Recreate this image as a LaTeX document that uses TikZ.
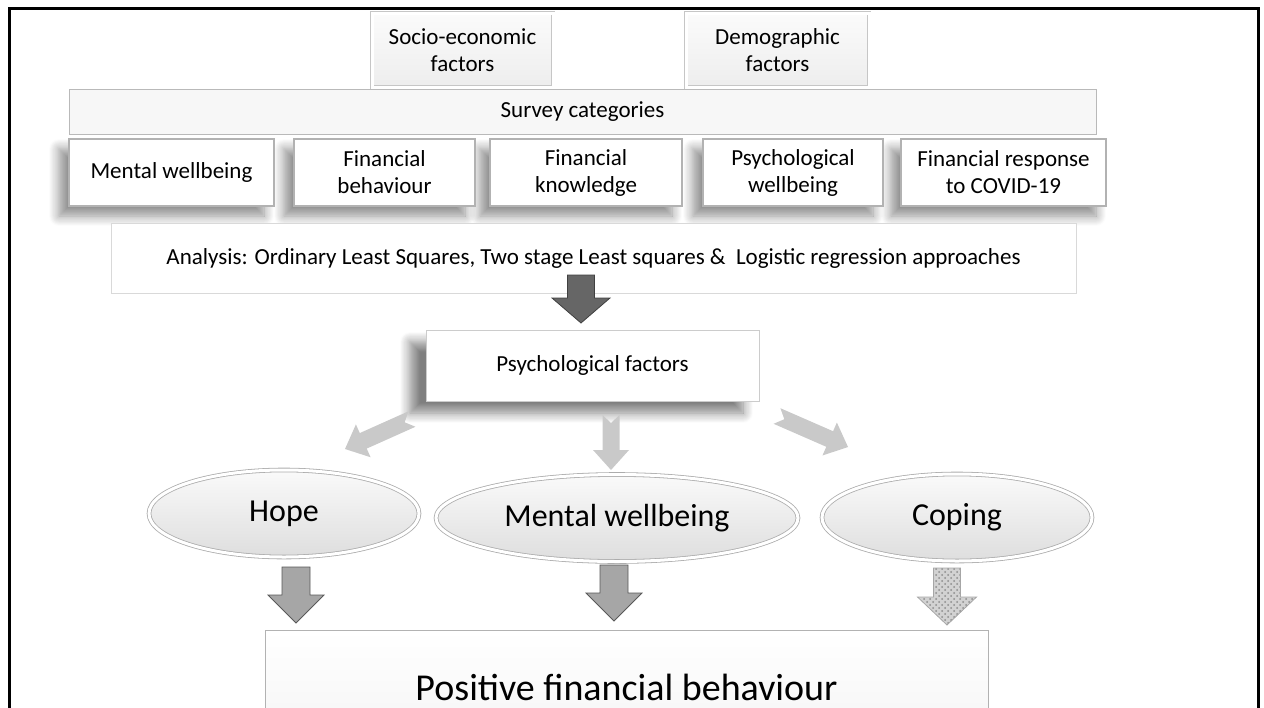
\documentclass[tikz,border=0pt]{standalone}
\usepackage{fontspec}
\setmainfont{Carlito}
\usetikzlibrary{calc,shapes.geometric,shadows.blur,patterns}

\definecolor{arrowdark}{HTML}{666666}
\definecolor{arrowlight}{HTML}{C9C9C9}
\definecolor{arrowmid}{HTML}{A6A6A6}

% block arrow: [style]{tail}{tip}{shaft half width}{head half width}{head length}{notch}
\newcommand{\blockarrow}[7][]{%
  \path[#1] ($(#2)!#4!90:(#3)$)
    -- ($($(#3)!#6!(#2)$)!#4!90:(#3)$)
    -- ($($(#3)!#6!(#2)$)!#5!90:(#3)$)
    -- (#3)
    -- ($($(#3)!#6!(#2)$)!#5!-90:(#3)$)
    -- ($($(#3)!#6!(#2)$)!#4!-90:(#3)$)
    -- ($(#2)!#4!-90:(#3)$)
    -- ($(#2)!#7!(#3)$) -- cycle;}

\begin{document}
\begin{tikzpicture}[x=0.5pt, y=-0.5pt,
  every node/.style={font=\fontsize{11.5}{13.5}\selectfont, align=center, inner sep=0pt},
  factorbox/.style={draw=gray!45, double=white, double distance=1.5pt,
    top color=gray!3, bottom color=gray!14, minimum height=37pt},
  catbox/.style={draw=gray!60, line width=0.8pt, fill=white, minimum height=33.5pt},
  softshadow/.style={blur shadow={shadow xshift=-5pt, shadow yshift=-5pt,
      shadow blur radius=5pt, shadow blur steps=10, shadow opacity=45}},
  ovalnode/.style={ellipse, draw=gray!65, double=white, double distance=1.5pt,
    top color=gray!4, bottom color=gray!26, minimum height=43.5pt,
    font=\fontsize{16}{19}\selectfont}]
  \useasboundingbox (0,0) rectangle (1264,707);
  \clip (0,0) rectangle (1264,707);
  \draw[line width=1.5pt] (9,720) |- (1258,8) -- (1258,720);

  % inputs
  \node[factorbox, minimum width=90.5pt] (socio) at (462.5,50) {Socio-economic\\factors};
  \node[factorbox, minimum width=91.5pt] (demog) at (777.5,50) {Demographic\\factors};
  \node[draw=gray!55, fill=gray!6, minimum width=513.5pt, minimum height=22.5pt]
    (survey) at (582.5,111.5) {Survey categories};
  \foreach \x/\w in {171.5/102.5, 384.5/90.5, 586/96, 793/90, 1003.5/102.5}
    { \path[softshadow] (\x-\w,139) rectangle (\x+\w,206); }
  \foreach \n/\x/\w/\t in {mw/171.5/102.5/{Mental wellbeing},
      fb/384.5/90.5/{Financial\\behaviour}, fk/586/96/{Financial\\knowledge},
      pw/793/90/{Psychological\\wellbeing}, fr/1003.5/102.5/{Financial response\\to COVID-19}}
    { \node[catbox, minimum width=\w pt] (\n) at (\x,172.5) {\t}; }
  \node[draw=gray!30, fill=white, minimum width=482.5pt, minimum height=35pt]
    (ana) at (593.5,258) {Analysis: Ordinary Least Squares, Two stage Least squares \&\ \ Logistic regression approaches};

  % psychological factors
  \node[draw=gray!40, fill=white, minimum width=166.5pt, minimum height=35.5pt,
    blur shadow={shadow xshift=-8pt, shadow yshift=-6pt, shadow blur radius=5pt,
      shadow blur steps=10, shadow opacity=50}]
    (psych) at (592.5,365.5) {Psychological factors};
  \node[ovalnode, minimum width=135pt] (hope) at (284,513.5) {Hope};
  \node[ovalnode, minimum width=181pt] (mwb) at (617,518) {Mental wellbeing};
  \node[ovalnode, minimum width=135pt] (coping) at (957,517.5) {Coping};
  \node[draw=gray!60, top color=white, bottom color=gray!8, minimum width=361.5pt,
    minimum height=57pt, font=\fontsize{19}{23}\selectfont]
    (pos) at (626.5,687) {Positive financial behaviour};

  % arrows
  \coordinate (d0) at (581,275); \coordinate (d1) at (581,323);
  \blockarrow[fill=arrowdark, draw=black!75]{d0}{d1}{6.75pt}{14.5pt}{12.5pt}{0pt}
  \foreach \a/\b/\c/\d in {412/419/345/449, 611/415/611/470, 777/416/848/447}
    { \coordinate (l0) at (\a,\b); \coordinate (l1) at (\c,\d);
      \blockarrow[fill=arrowlight]{l0}{l1}{4.25pt}{9pt}{10pt}{4pt} }
  \foreach \a/\b in {296/567, 614/565}
    { \coordinate (m0) at (\a,\b); \coordinate (m1) at (\a,\b+56);
      \blockarrow[fill=arrowmid, draw=black!65]{m0}{m1}{7pt}{14pt}{14pt}{0pt} }
  \coordinate (c0) at (947,568); \coordinate (c1) at (947,625);
  \blockarrow[preaction={fill=gray!35}, pattern=crosshatch dots, pattern color=gray!90,
    draw=gray!70]{c0}{c1}{6.75pt}{14.75pt}{14pt}{0pt}
\end{tikzpicture}
\end{document}
